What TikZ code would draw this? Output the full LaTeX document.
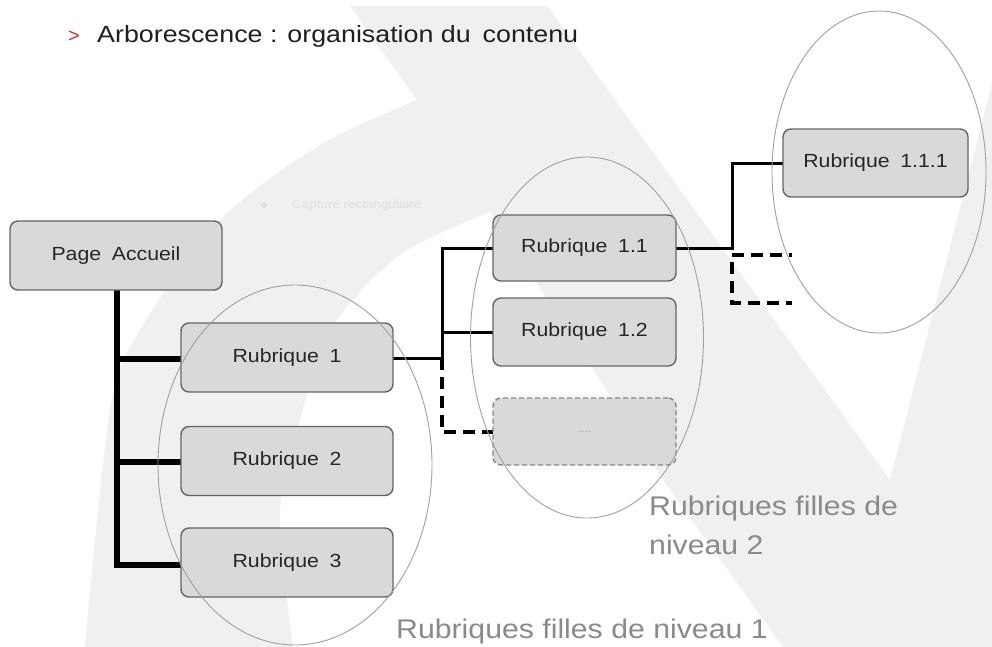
\documentclass[tikz,border=0pt]{standalone}
\usepackage{graphicx}
\usepackage{fontspec}
\setmainfont{Liberation Sans}
\definecolor{wm}{HTML}{F0F0F0}
\definecolor{wmtext}{HTML}{E0E0E0}
\definecolor{boxfill}{HTML}{D9D9D9}
\definecolor{boxline}{HTML}{656565}
\definecolor{lbl}{HTML}{8A8A8A}
\definecolor{ell}{HTML}{A0A0A0}
\definecolor{titlered}{HTML}{C0392B}
\definecolor{boxtext}{HTML}{262626}
\newcommand{\hstr}[1]{\scalebox{1.12}[1]{#1}}
\begin{document}
\begin{tikzpicture}[x=1pt,y=-1pt,
  rub/.style={draw=boxline, line width=1.4pt, fill=boxfill, rounded corners=8pt,
    minimum width=212pt, minimum height=69pt, inner sep=0pt,
    font=\fontsize{19}{23}\selectfont, text=boxtext},
  rubdash/.style={rub, dashed, dash pattern=on 5pt off 3pt, draw=boxline!80},
  trunk/.style={line width=6.5pt, black},
  link/.style={line width=3pt, black},
  dashlink/.style={line width=3.2pt, black, dash pattern=on 12pt off 7pt},
  ellipseline/.style={draw=ell, line width=0.9pt},
  lbltext/.style={text=lbl, font=\fontsize{27}{32}\selectfont, inner sep=0pt},
]
\useasboundingbox (0,0) rectangle (992,646);
\fill[white] (0,0) rectangle (992,646);
% faint watermark
\begin{scope}
\clip (0,0) rectangle (992,646);
\fill[wm] (85,650) -- plot[smooth] coordinates {(85,646) (110,410) (140,330) (220,220) (320,145) (417,100)}
  -- (350,6) -- (547,6) -- (890,480) -- (1012,6) -- (1012,650) -- cycle;
\fill[white] (293,650) -- plot[smooth] coordinates {(293,646) (280,513) (300,420) (330,330) (400,255) (490,212)}
  -- (600,380) -- (663,480) -- (785,650) -- cycle;
\end{scope}
\fill[wmtext] (264,205) circle (3pt);
\node[text=wmtext, font=\fontsize{12}{14}\selectfont, anchor=west, inner sep=0pt] (cap) at (292,205) {\hstr{Capture rectangulaire}};

% title
\node[anchor=base west, inner sep=0pt, text=titlered, font=\fontsize{20}{24}\selectfont] (chev) at (68,42) {>};
\node[anchor=base west, inner sep=0pt, text=black!88, font=\fontsize{23.5}{28}\selectfont] (title) at (97,42)
  {\resizebox{481pt}{\height}{Arborescence : organisation du\, contenu}};

% coordinates for junctions
\coordinate (tb) at (117,565);
\coordinate (j1) at (442,358);
\coordinate (j2) at (732,248);
\coordinate (d1) at (792,255);
\coordinate (d2) at (792,303);

% connectors (under the boxes)
\draw[trunk] (117,288) -- (tb) -- (184,565);
\draw[trunk] (117,359) -- (184,359);
\draw[trunk] (117,462) -- (184,462);
\draw[link] (391,358) -- (j1) |- (495,248);
\draw[link] (442,332) -- (495,332);
\draw[dashlink] (j1) |- (495,432);
\draw[link] (674,248) -- (j2) |- (785,163);
\draw[dashlink] (732,255) -- (d1);
\draw[dashlink] (732,262) -- (d2 -| j2) -- (d2);

% boxes
\node[rub] (home) at (116,255.5) {\hstr{Page\enspace Accueil}};
\node[rub] (r1) at (287,357.5) {\hstr{Rubrique\enspace 1}};
\node[rub] (r2) at (287,461) {\hstr{Rubrique\enspace 2}};
\node[rub] (r3) at (287,562.5) {\hstr{Rubrique\enspace 3}};
\node[rub, minimum width=183pt, minimum height=66pt] (r11) at (584.5,248) {\hstr{Rubrique\enspace 1.1}};
\node[rub, minimum width=183pt, minimum height=68pt] (r12) at (584.5,332) {\hstr{Rubrique\enspace 1.2}};
\node[rubdash, minimum width=183pt, minimum height=67pt, text=gray!70, font=\fontsize{12}{14}\selectfont] (rd) at (584.5,431.5) {....};
\node[rub, minimum width=185pt, minimum height=68pt] (r111) at (875.5,163) {\hstr{Rubrique\enspace 1.1.1}};

% ellipses grouping levels
\draw[ellipseline] (295,465) ellipse [x radius=137, y radius=180];
\draw[ellipseline] (587,337.5) ellipse [x radius=116.5, y radius=180.5];
\draw[ellipseline] (879,172) ellipse [x radius=107, y radius=161];

% labels
\node[lbltext, anchor=base west] (lab2a) at (649,515) {\hstr{Rubriques filles de}};
\node[lbltext, anchor=base west] (lab2b) at (649,554) {\hstr{niveau 2}};
\node[lbltext, anchor=base west] (lab1) at (396,638) {\hstr{Rubriques filles de niveau 1}};
\end{tikzpicture}
\end{document}
